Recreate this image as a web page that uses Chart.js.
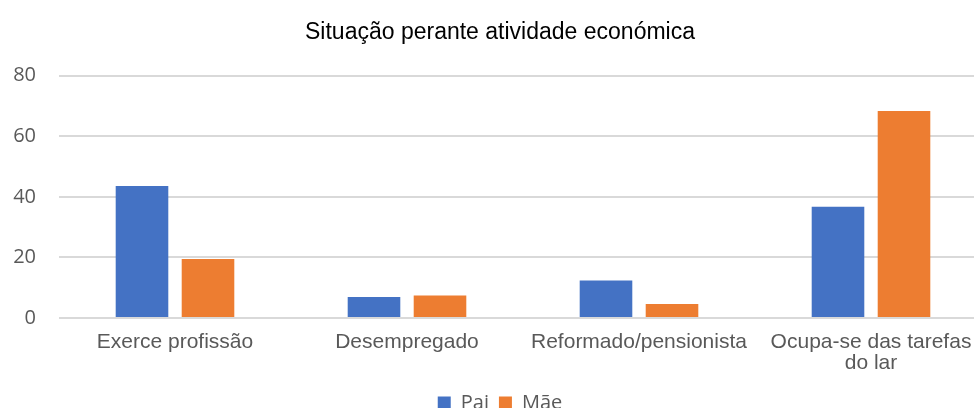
<!DOCTYPE html>
<html>
<head>
<meta charset="utf-8">
<script src="https://cdn.jsdelivr.net/npm/chart.js@4.4.1/dist/chart.umd.min.js"></script>
<style>
  html, body { margin: 0; padding: 0; background: #fff; overflow: hidden; }
  #wrap { width: 974px; height: 408px; overflow: hidden; position: relative; }
  #box { position: absolute; left: 0; top: 0; width: 1000px; height: 423px; }
</style>
</head>
<body>
<div id="wrap"><div id="box"><canvas id="situacaoChart"></canvas></div></div>
<script>
const categorias = ['Exerce profissão', 'Desempregado', 'Reformado/pensionista', ['Ocupa-se das tarefas', 'do lar']]
const valoresPai = [43.6, 6.9, 12.4, 36.7]
const valoresMae = [19.5, 7.4, 4.6, 68.3]
const ticksY = [0, 20, 40, 60, 80]

const corTexto = '#595959'

const dados = {
    labels: categorias,
    datasets: [
        {
            label: 'Pai',
            backgroundColor: '#4472C4',
            data: valoresPai
        },
        {
            label: 'Mãe',
            backgroundColor: '#ED7D31',
            data: valoresMae
        }
    ]
}

const config = {
    type: 'bar',
    data: dados,
    options: {
        responsive: false,
        animation: false,
        devicePixelRatio: 1,
        datasets: {
            bar: { barPercentage: 0.797, categoryPercentage: 0.569 }
        },
        layout: { padding: 0 },
        plugins: {
            title: {
                display: true,
                text: 'Situação perante atividade económica',
                color: '#000',
                font: { family: 'Liberation Sans', size: 23, weight: 'normal' },
                padding: { top: 19, bottom: 29 }
            },
            legend: {
                position: 'bottom',
                labels: {
                    color: corTexto,
                    boxWidth: 13,
                    boxHeight: 13,
                    padding: 10,
                    font: { family: 'Open Sans', size: 20 }
                }
            },
            tooltip: { enabled: false }
        },
        scales: {
            x: {
                grid: { display: false },
                border: { display: false },
                ticks: {
                    color: corTexto,
                    maxRotation: 0,
                    autoSkip: false,
                    padding: 6,
                    font: { family: 'Liberation Sans', size: 21, lineHeight: 1.0 }
                },
                afterFit: scale => { scale.height = 65 }
            },
            y: {
                min: 0,
                max: 80,
                afterBuildTicks: scale => { scale.ticks = ticksY.map(v => ({ value: v })) },
                grid: { color: '#d9d9d9', lineWidth: 2, drawTicks: false },
                border: { display: false },
                ticks: {
                    color: corTexto,
                    padding: 23,
                    font: { family: 'Open Sans', size: 20 }
                },
                afterFit: scale => { scale.width = 59 }
            },
            direita: {
                position: 'right',
                grid: { display: false },
                border: { display: false },
                ticks: { display: false },
                afterFit: scale => { scale.width = 13 }
            }
        }
    }
}

const ctx = document.getElementById('situacaoChart')
ctx.width = 1000
ctx.height = 423
new Chart(ctx, config)
</script>
</body>
</html>
